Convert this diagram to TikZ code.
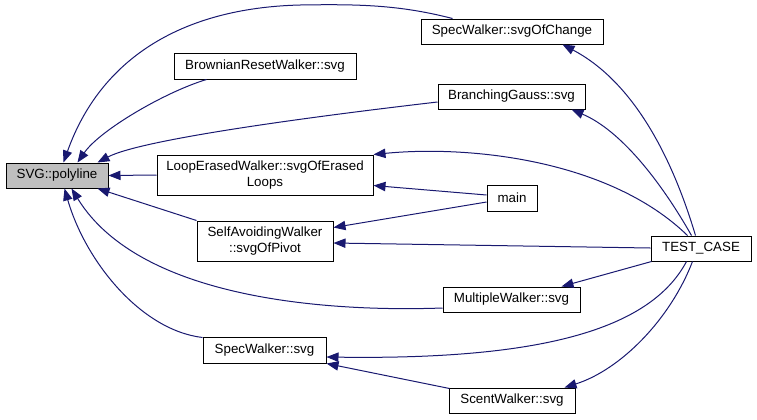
\documentclass[tikz,border=0pt]{standalone}
\usepackage{fontspec}
\setmainfont{Liberation Sans}
\usetikzlibrary{arrows.meta,calc}
\definecolor{navy}{HTML}{191970}
\definecolor{polygray}{HTML}{BFBFBF}
\begin{document}
\begin{tikzpicture}[x=0.75pt,y=-0.75pt,
  fn/.style 2 args={draw=black, line width=0.75pt, fill=white, inner sep=0pt,
    minimum width=#1*0.75pt, minimum height=#2*0.75pt, align=center,
    font=\fontsize{10}{11.5}\selectfont},
  callarrow/.style={draw=navy, line width=0.75pt, -{Triangle[length=9pt,width=7pt,fill=navy]}}]
\useasboundingbox (0,0) rectangle (757,419);
% nodes
\node[fn={102}{25}, fill=polygray] (poly) at (57,175.5) {SVG::polyline};
\node[fn={216}{40}] (lew) at (265,175) {LoopErasedWalker::svgOfErased\\Loops};
\node[fn={182}{26}] (brw) at (265,66) {BrownianResetWalker::svg};
\node[fn={182}{25}] (soc) at (512,31.5) {SpecWalker::svgOfChange};
\node[fn={147}{25}] (bg) at (511.5,96.5) {BranchingGauss::svg};
\node[fn={50}{26}] (main) at (512,198) {main};
\node[fn={100}{25}] (tc) at (701,248.5) {TEST\_CASE};
\node[fn={137}{25}] (mw) at (511.5,299.5) {MultipleWalker::svg};
\node[fn={126}{25}] (scw) at (512,400.5) {ScentWalker::svg};
\node[fn={136}{40}] (saw) at (265,241) {SelfAvoidingWalker\\::svgOfPivot};
\node[fn={123}{26}] (sw) at (264.5,350) {SpecWalker::svg};
% connectors
\draw[callarrow] (lew.west) -- (poly.east);
\draw[callarrow] ($(brw.south west)+(33,0)$) .. controls (165,92) and (100,130) .. ($(poly.north west)+(72,0)$);
\draw[callarrow] ($(soc.north west)+(32,0)$) .. controls (400,5) and (360,4) .. (300,5)
  .. controls (180,8) and (100,60) .. ($(poly.north west)+(58,0)$);
\draw[callarrow] ($(bg.west)+(0,5.5)$) .. controls (300,118) and (140,140) .. ($(poly.north east)+(-11,0)$);
\draw[callarrow] (saw.north west) -- ($(poly.south east)+(-11,0)$);
\draw[callarrow] ($(mw.west)+(0,8.5)$) .. controls (330,312) and (140,300) .. ($(poly.south west)+(66,0)$);
\draw[callarrow] ($(sw.north west)+(0,1)$) .. controls (140,330) and (85,260) .. ($(poly.south west)+(59,0)$);
\draw[callarrow] ($(tc.north west)+(37,0)$) .. controls (610,160) and (470,145) .. (lew.north east);
\draw[callarrow] ($(main.west)+(0,-3)$) -- ($(lew.south east)+(0,-10)$);
\draw[callarrow] ($(main.west)+(0,4)$) -- ($(saw.north east)+(0,7)$);
\draw[callarrow] ($(tc.west)+(0,-0.5)$) -- ($(saw.east)+(0,2)$);
\draw[callarrow] ($(tc.north west)+(45,0)$) .. controls (670,150) and (630,80) .. ($(soc.south west)+(142,0)$);
\draw[callarrow] ($(tc.north west)+(41,0)$) .. controls (660,180) and (620,130) .. ($(bg.south west)+(134,0)$);
\draw[callarrow] ($(tc.south west)+(1,0)$) -- ($(mw.north west)+(119,0)$);
\draw[callarrow] ($(tc.south west)+(36,0)$) .. controls (650,330) and (540,360) .. ($(sw.east)+(0,7)$);
\draw[callarrow] ($(scw.north west)+(1,1)$) -- (sw.south east);
\draw[callarrow] ($(tc.south west)+(42,0)$) .. controls (670,320) and (620,370) .. ($(scw.north west)+(116,0)$);
\end{tikzpicture}
\end{document}
